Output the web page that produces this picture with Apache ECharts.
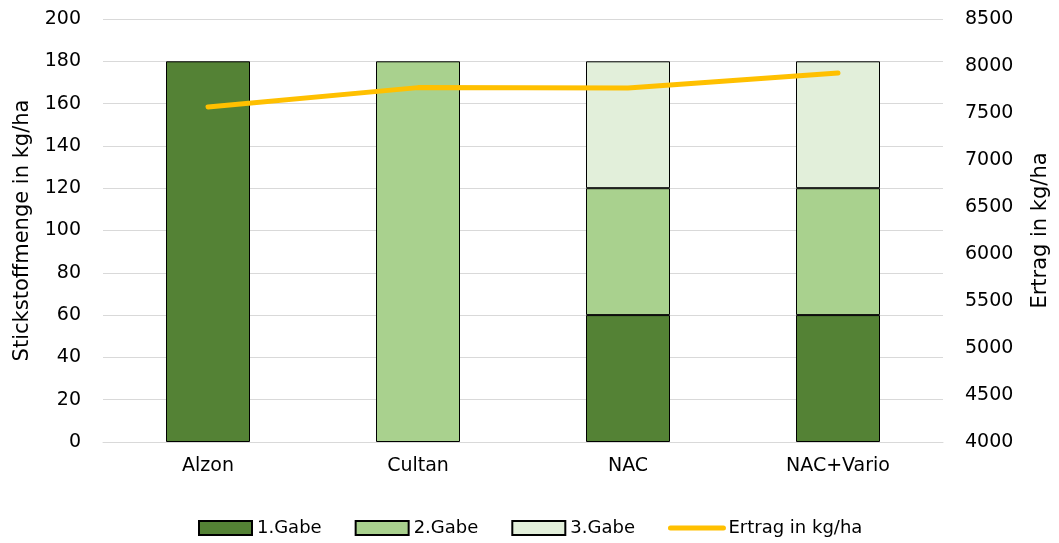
<!DOCTYPE html>
<html>
<head>
<meta charset="utf-8">
<script src="https://cdn.jsdelivr.net/npm/echarts@6/dist/echarts.min.js"></script>
<style>
  html, body { margin: 0; padding: 0; background: #fff; }
  #chart { width: 1059px; height: 543px; }
</style>
</head>
<body>
<div id="chart"></div>
<script>
// Kategorien und Werte (null = keine Gabe)
const categories = ['Alzon', 'Cultan', 'NAC', 'NAC+Vario'];
const gabe1 = [180, null, 60, 60];
const gabe2 = [null, 180, 60, 60];
const gabe3 = [null, null, 60, 60];
const ertrag = [7565, 7770, 7765, 7925];

const font = '"DejaVu Sans", sans-serif';
const textColor = '#000';

const chart = echarts.init(document.getElementById('chart'));

function barSeries(name, data, color) {
  return {
    name,
    type: 'bar',
    stack: 'n',
    data,
    barWidth: 84,
    itemStyle: { color, borderColor: '#000', borderWidth: 1 },
  };
}

chart.setOption({
  animation: false,
  textStyle: { fontFamily: font },
  grid: { left: 103, right: 110, top: 19, bottom: 101 },
  legend: {
    top: 514,
    left: 193,
    itemWidth: 53,
    itemHeight: 14,
    itemGap: 33,
    textStyle: { fontSize: 18, color: textColor, fontFamily: font },
    data: [
      { name: '1.Gabe', icon: 'rect' },
      { name: '2.Gabe', icon: 'rect' },
      { name: '3.Gabe', icon: 'rect' },
      {
        name: 'Ertrag in kg/ha',
        itemStyle: { opacity: 0 },
        lineStyle: { color: '#FFC000', width: 5, cap: 'round' },
      },
    ],
  },
  xAxis: {
    type: 'category',
    data: categories,
    axisTick: { show: false },
    axisLine: { lineStyle: { color: '#d9d9d9', width: 1 } },
    axisLabel: { fontSize: 19, color: textColor, margin: 15 },
  },
  yAxis: [
    {
      type: 'value',
      min: 0,
      max: 200,
      interval: 20,
      name: 'Stickstoffmenge in kg/ha',
      nameLocation: 'middle',
      nameGap: 70,
      nameRotate: 90,
      nameTextStyle: { fontSize: 21, color: textColor },
      axisLabel: { fontSize: 19, color: textColor, margin: 22 },
      splitLine: { lineStyle: { color: '#d9d9d9', width: 1 } },
    },
    {
      type: 'value',
      min: 4000,
      max: 8500,
      interval: 500,
      name: 'Ertrag in kg/ha',
      nameLocation: 'middle',
      nameGap: 87,
      nameRotate: 90,
      nameTextStyle: { fontSize: 21, color: textColor },
      axisLabel: { fontSize: 19, color: textColor, margin: 22, formatter: (v) => String(v) },
      splitLine: { show: false },
    },
  ],
  series: [
    barSeries('1.Gabe', gabe1, '#548235'),
    barSeries('2.Gabe', gabe2, '#A9D18E'),
    barSeries('3.Gabe', gabe3, '#E2EFDA'),
    {
      name: 'Ertrag in kg/ha',
      type: 'line',
      yAxisIndex: 1,
      data: ertrag,
      symbol: 'none',
      lineStyle: { color: '#FFC000', width: 5, cap: 'round' },
      itemStyle: { color: '#FFC000' },
    },
  ],
});
</script>
</body>
</html>
